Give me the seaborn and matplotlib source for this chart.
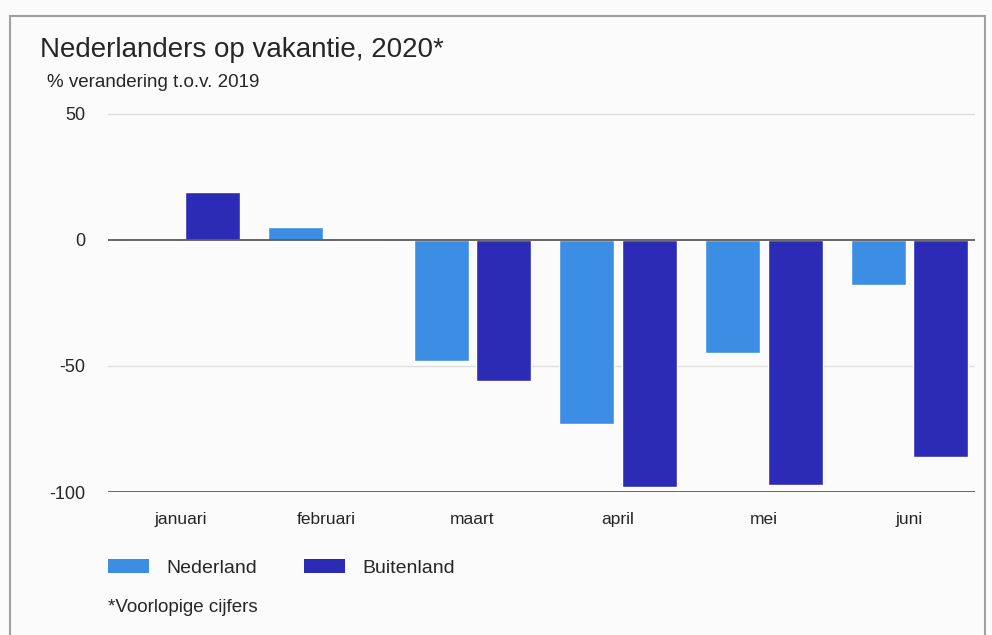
import matplotlib
matplotlib.use("Agg")
import matplotlib.pyplot as plt
from matplotlib.patches import Patch, Rectangle
import pandas as pd
import seaborn as sns

maanden = ["januari", "februari", "maart", "april", "mei", "juni"]
nederland = [0, 5, -48, -73, -45, -18]
buitenland = [19, 0, -56, -98, -97, -86]
reeksen = ["Nederland", "Buitenland"]
kleuren = ["#3b8ee3", "#2b2bb6"]
y_ticks = [-100, -50, 0, 50]

df = pd.DataFrame({
    "maand": maanden * 2,
    "waarde": nederland + buitenland,
    "reeks": [reeksen[0]] * len(maanden) + [reeksen[1]] * len(maanden),
})

sns.set_style("white")
plt.rcParams["font.family"] = ["Liberation Sans", "DejaVu Sans"]

tekst = "#262626"
fig = plt.figure(figsize=(9.92, 6.35), dpi=100, facecolor="#fbfbfc")
ax = fig.add_axes([0.109, 0.225, 0.874, 0.602])
ax.set_facecolor("#fbfbfc")

sns.barplot(data=df, x="maand", y="waarde", hue="reeks", order=maanden,
            hue_order=reeksen, palette=kleuren, width=0.86, gap=0.12,
            saturation=1, legend=False, ax=ax)

ax.set_xlim(-0.5, 5.45)
ax.set_ylim(-100, 51.5)
ax.set_yticks(y_ticks)
ax.set_yticklabels([str(v) for v in y_ticks])
for v in y_ticks:
    if v in (0, -100):
        ax.axhline(v, color="#5a5a5a", lw=1.3, zorder=3)
    else:
        ax.axhline(v, color="#dedede", lw=1, zorder=0)

for s in ax.spines.values():
    s.set_visible(False)
ax.tick_params(axis="y", length=0, pad=16.5, labelsize=13, labelcolor=tekst)
ax.tick_params(axis="x", length=0, pad=14, labelsize=12.5, labelcolor=tekst)
ax.set_xlabel("")
ax.set_ylabel("")

fig.text(0.040, 0.910, "Nederlanders op vakantie, 2020*", fontsize=20, color=tekst)
fig.text(0.047, 0.863, "% verandering t.o.v. 2019", fontsize=13.5, color=tekst)
fig.text(0.109, 0.036, "*Voorlopige cijfers", fontsize=13.5, color=tekst)

handles = [Patch(facecolor=c, edgecolor="none") for c in kleuren]
leg = fig.legend(handles, reeksen, loc="center left", bbox_to_anchor=(0.109, 0.106),
                 ncol=2, frameon=False, fontsize=14, handlelength=2.1,
                 handleheight=0.8, columnspacing=2.4, handletextpad=0.9,
                 borderpad=0, borderaxespad=0)
for t in leg.get_texts():
    t.set_color(tekst)

fig.patches.append(Rectangle((0.010, -0.01), 0.983, 0.985, transform=fig.transFigure,
                             fill=False, edgecolor="#a0a0a0", lw=1.5))

fig.savefig("out.png", dpi=100, facecolor=fig.get_facecolor())
